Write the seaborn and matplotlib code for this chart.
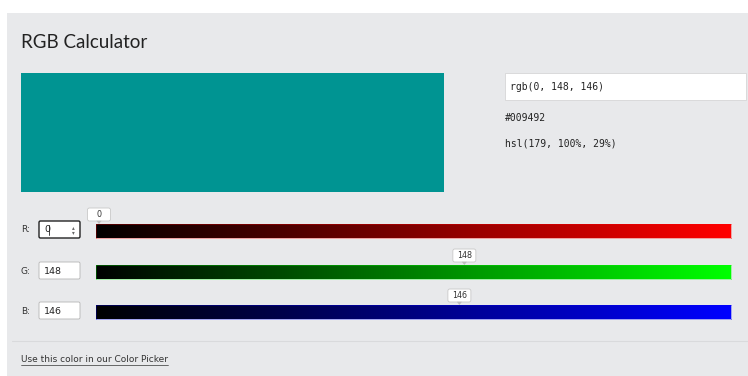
import numpy as np
import matplotlib
matplotlib.use('Agg')
import matplotlib.pyplot as plt
import matplotlib.patches as mpatches
from matplotlib.colors import LinearSegmentedColormap
import seaborn as sns

## =============================== ##
## data

channels = ['R', 'G', 'B']
values = [0, 148, 146]
channel_colors = ['#ff0000', '#00ff00', '#0000ff']
rgb_text = 'rgb(0, 148, 146)'
hex_text = '#009492'
hsl_text = 'hsl(179, 100%, 29%)'
title = 'RGB Calculator'
link_text = 'Use this color in our Color Picker'

## =============================== ##

sns.set_style('white')
plt.rcParams['font.family'] = ['DejaVu Sans']

W, H = 748, 376
fig = plt.figure(figsize=(W / 100, H / 100), dpi=100)
ax = fig.add_axes([0, 0, 1, 1])
ax.set_xlim(0, W)
ax.set_ylim(H, 0)
ax.axis('off')

# panel
ax.add_patch(mpatches.Rectangle((7, 13), W - 7, H - 13, fc='#e8e9eb', ec='none'))
ax.text(21, 42, title, fontsize=13.5, family='Lato', color='#222222', va='center')

# swatch
swatch = '#%02x%02x%02x' % tuple(values)
ax.add_patch(mpatches.Rectangle((21, 73), 423, 119, fc=swatch, ec='none'))

# outputs
ax.add_patch(mpatches.Rectangle((505, 73), 241, 27, fc='white', ec='#d6d6d6', lw=0.6))
ax.text(510, 87, rgb_text, fontsize=7, family='DejaVu Sans Mono', color='#222222', va='center')
ax.text(505, 118, hex_text, fontsize=7, family='DejaVu Sans Mono', color='#222222', va='center')
ax.text(505, 143, hsl_text, fontsize=7, family='DejaVu Sans Mono', color='#222222', va='center')

# sliders
bar_x0, bar_x1 = 96, 731
bar_y = [224, 265, 305]
bar_h = 14
for i, (ch, val, col) in enumerate(zip(channels, values, channel_colors)):
    y0 = bar_y[i]
    ax.text(21, y0 + 6, ch + ':', fontsize=6.5, color='#333333', va='center')
    focused = (i == 0)
    ax.add_patch(mpatches.FancyBboxPatch((39, y0 - 3), 41, 17,
                 boxstyle='round,pad=0,rounding_size=1.5', fc='white',
                 ec='#222222' if focused else '#b5b5b5', lw=1.0 if focused else 0.6))
    ax.text(44, y0 + 6, str(val), fontsize=6.8, color='#222222', va='center')
    if focused:
        ax.plot([49, 49], [y0 + 1, y0 + 11], color='#222222', lw=0.6)
        ax.text(73, y0 + 3.5, '\u25b4', fontsize=4, color='#666666', ha='center', va='center')
        ax.text(73, y0 + 8.5, '\u25be', fontsize=4, color='#666666', ha='center', va='center')

    # gradient bar through seaborn heatmap in its own axes
    bax = fig.add_axes([bar_x0 / W, 1 - (y0 + bar_h) / H, (bar_x1 - bar_x0) / W, bar_h / H])
    cmap = LinearSegmentedColormap.from_list(ch, ['#000000', col])
    sns.heatmap(np.arange(256).reshape(1, -1), ax=bax, cmap=cmap, cbar=False,
                xticklabels=False, yticklabels=False, vmin=0, vmax=255)
    for s in bax.spines.values():
        s.set_visible(True)
        s.set_color(col)
        s.set_alpha(0.35)
        s.set_linewidth(0.6)

    # value bubble
    bx = bar_x0 + (val + 0.5) / 256 * (bar_x1 - bar_x0)
    bx = max(bx, bar_x0 + 3)
    bw = 23
    ax.add_patch(mpatches.FancyBboxPatch((bx - bw / 2, y0 - 16), bw, 13,
                 boxstyle='round,pad=0,rounding_size=2', fc='white', ec='#c8c8c8', lw=0.6, zorder=5))
    ax.add_patch(mpatches.Polygon([[bx - 2.5, y0 - 3.2], [bx + 2.5, y0 - 3.2], [bx, y0]],
                 closed=True, fc='#bdbdbd', ec='none', zorder=5))
    ax.text(bx, y0 - 9.5, str(val), fontsize=5.8, color='#333333', ha='center', va='center', zorder=6)

# footer
ax.plot([12, W], [341, 341], color='#d9dadc', lw=0.8)
link = ax.text(21, 360, link_text, fontsize=6.5, color='#333333', va='center')
fig.canvas.draw()
bb = link.get_window_extent().transformed(ax.transData.inverted())
ax.plot([bb.x0, bb.x1], [364.8, 364.8], color='#333333', lw=0.5)

fig.savefig('out.png', dpi=100)
